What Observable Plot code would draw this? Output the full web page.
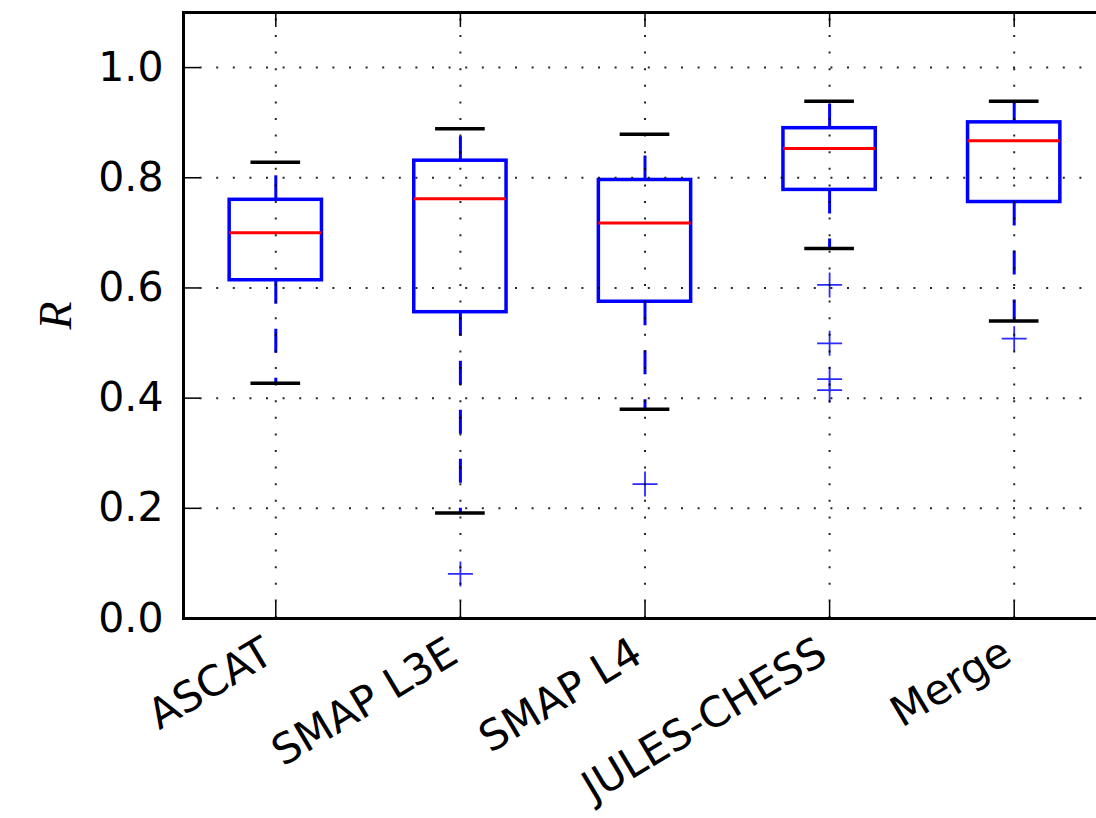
<!DOCTYPE html>
<html><head><meta charset="utf-8">
<script src="https://cdn.jsdelivr.net/npm/d3@7"></script>
<script src="https://cdn.jsdelivr.net/npm/@observablehq/plot@0.6"></script>
<style>
html,body{margin:0;padding:0;background:#fff;overflow:hidden;}
#chart svg{max-width:none !important;}
</style></head><body><div id="chart"></div>
<script>
// ---- data ----
const categories = ["ASCAT", "SMAP L3E", "SMAP L4", "JULES-CHESS", "Merge"];
const whiskerLow  = [0.427, 0.1915, 0.380, 0.6715, 0.540];
const q1          = [0.614, 0.556, 0.575, 0.778, 0.756];
const median      = [0.700, 0.762, 0.718, 0.853, 0.867];
const q3          = [0.760, 0.831, 0.796, 0.890, 0.9006];
const whiskerHigh = [0.828, 0.889, 0.879, 0.939, 0.939];
const outlierCategory = ["SMAP L3E", "SMAP L4", "JULES-CHESS", "JULES-CHESS", "JULES-CHESS", "JULES-CHESS", "Merge"];
const outlierValue    = [0.081, 0.244, 0.6055, 0.4995, 0.4345, 0.4145, 0.508];
const yTicks = [0, 0.2, 0.4, 0.6, 0.8, 1.0];
const yLabel = "R";

const boxes = categories.map((c, i) => ({cat: c, pos: i + 1, lo: whiskerLow[i], q1: q1[i], med: median[i], q3: q3[i], hi: whiskerHigh[i]}));
const outliers = outlierValue.map((v, j) => ({pos: categories.indexOf(outlierCategory[j]) + 1, v}));

const W = 1110, H = 818, mL = 183, mR = 4, mT = 12, mB = 200;
const plotW = W - mL - mR, plotH = H - mT - mB;
const plusSymbol = {draw(ctx, size) {
  const r = Math.sqrt(size / Math.PI);
  ctx.moveTo(-r, 0); ctx.lineTo(r, 0); ctx.moveTo(0, -r); ctx.lineTo(0, r);
}};
const gridStyle = {stroke: "black", strokeWidth: 2, strokeDasharray: "2,14.6", strokeOpacity: 0.85};

const chart = Plot.plot({
  width: W, height: H, marginLeft: mL, marginRight: mR, marginTop: mT, marginBottom: mB,
  style: {fontFamily: "'DejaVu Sans', sans-serif", background: "#fff", maxWidth: "none"},
  x: {type: "linear", domain: [0.5, 5.5], axis: null},
  y: {domain: [0, 1.1], axis: null},
  marks: [
    // whiskers
    Plot.ruleX(boxes, {x: "pos", y1: "q1", y2: "lo", stroke: "blue", strokeWidth: 3, strokeDasharray: "24,25"}),
    Plot.ruleX(boxes, {x: "pos", y1: "q3", y2: "hi", stroke: "blue", strokeWidth: 3, strokeDasharray: "24,25"}),
    // caps
    Plot.ruleY(boxes, {y: "lo", x1: d => d.pos - 0.125, x2: d => d.pos + 0.125, stroke: "black", strokeWidth: 3.5, strokeLinecap: "square"}),
    Plot.ruleY(boxes, {y: "hi", x1: d => d.pos - 0.125, x2: d => d.pos + 0.125, stroke: "black", strokeWidth: 3.5, strokeLinecap: "square"}),
    // boxes
    Plot.rect(boxes, {x1: d => d.pos - 0.25, x2: d => d.pos + 0.25, y1: "q1", y2: "q3", fill: "none", stroke: "blue", strokeWidth: 3.5}),
    // medians
    Plot.ruleY(boxes, {y: "med", x1: d => d.pos - 0.25, x2: d => d.pos + 0.25, stroke: "red", strokeWidth: 3}),
    // outliers
    Plot.dot(outliers, {x: "pos", y: "v", symbol: plusSymbol, r: 12.5, stroke: "#2b2bff", strokeWidth: 1.8, fill: "none"}),
    // grid
    Plot.ruleY(yTicks.slice(1), {y: d => d, ...gridStyle}),
    Plot.ruleX(boxes, {x: "pos", y1: 0, y2: 1.1, ...gridStyle}),
    // inward ticks
    Plot.tickY(yTicks, {y: d => d, insetRight: plotW - 17, stroke: "black", strokeWidth: 1.5}),
    Plot.tickX(boxes, {x: "pos", insetTop: plotH - 17, stroke: "black", strokeWidth: 1.5}),
    Plot.tickX(boxes, {x: "pos", insetBottom: plotH - 15, stroke: "black", strokeWidth: 1.5}),
    Plot.frame({stroke: "black", strokeWidth: 3}),
    // tick labels
    Plot.text(yTicks, {y: d => d, text: d => d.toFixed(1), frameAnchor: "left", dx: -20, textAnchor: "end", fontSize: 41, fill: "black"}),
    Plot.text(boxes, {x: "pos", text: "cat", frameAnchor: "bottom", rotate: -31, textAnchor: "end", lineAnchor: "bottom", dx: 0, dy: 42, fontSize: 42, fill: "black"}),
    Plot.text([yLabel], {text: d => d, frameAnchor: "left", dx: -113, rotate: -90, lineAnchor: "bottom", textAnchor: "middle",
      fontFamily: "'Liberation Serif', serif", fontStyle: "italic", fontSize: 46, fill: "black"})
  ]
});
document.getElementById("chart").appendChild(chart);
</script>
</body></html>
